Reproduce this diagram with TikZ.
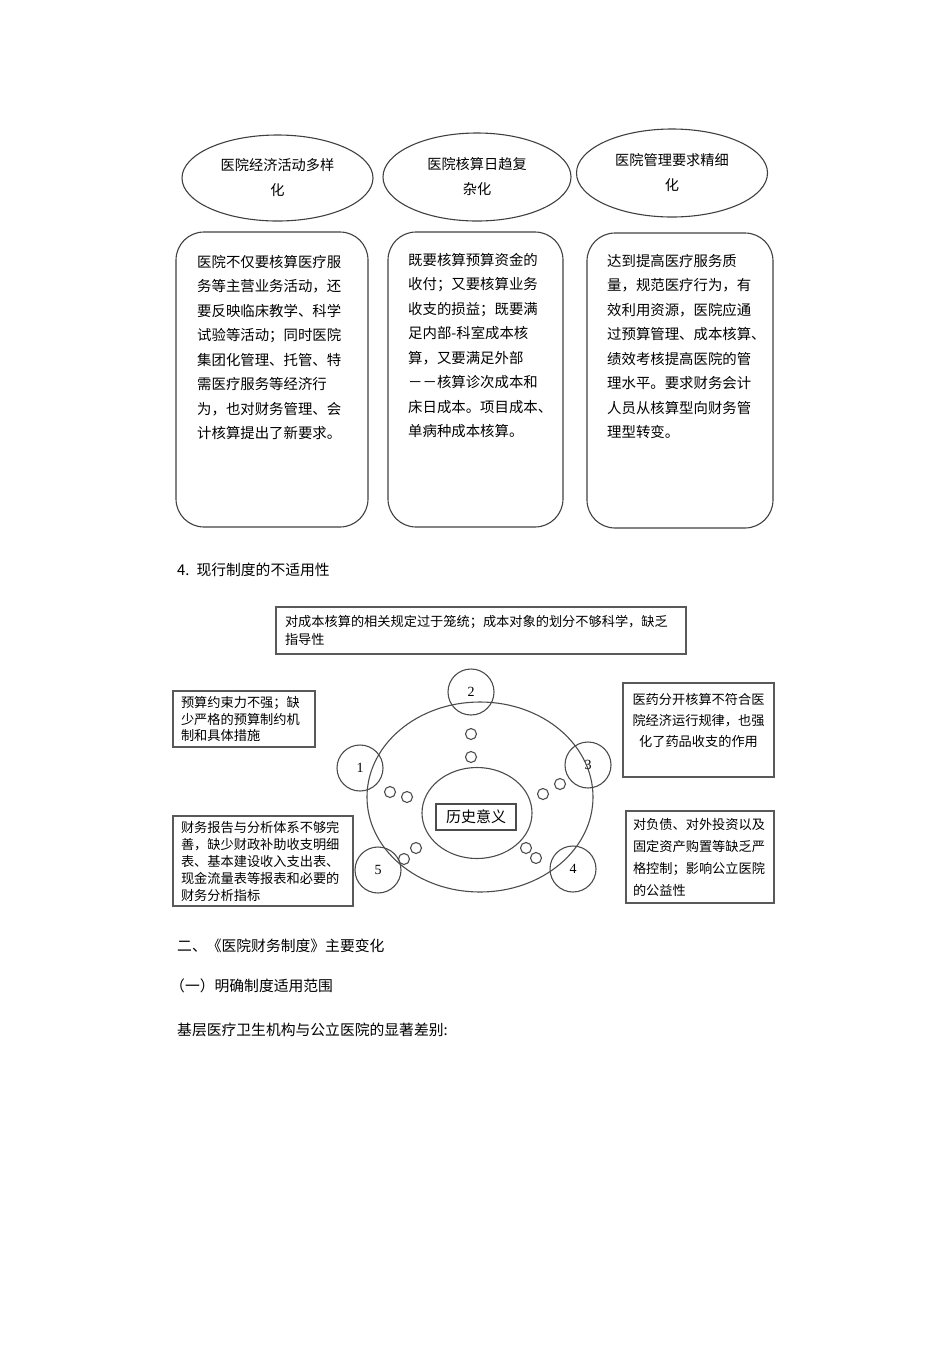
\documentclass[tikz,border=0pt]{standalone}
\usepackage{fontspec}
\setmainfont{Noto Sans CJK SC}
\newfontfamily\numfont{Liberation Serif}
\usetikzlibrary{shapes.geometric}

\begin{document}
\begin{tikzpicture}[x=1pt, y=-1pt,
    oval/.style={ellipse, draw=black!75, line width=1.1pt, align=center, inner sep=0pt, font=\fontsize{14.2}{25}\selectfont},
    card/.style={rectangle, draw=black!75, line width=1.1pt, rounded corners=28pt},
    cardtext/.style={anchor=north west, align=left, inner sep=0pt, font=\fontsize{14.4}{24.5}\selectfont},
    heading/.style={anchor=west, inner sep=0pt, font=\fontsize{14.8}{18}\selectfont},
    notebox/.style={rectangle, draw=black!65, line width=1.1pt, align=left, inner ysep=0pt, font=\fontsize{13.2}{#1}\selectfont},
    ring/.style={ellipse, draw=black!70, line width=1.1pt, inner sep=0pt},
    numring/.style={circle, draw=black!70, line width=1.1pt, minimum size=46pt, inner sep=0pt, font=\numfont\fontsize{14}{14}\selectfont},
    dot/.style={circle, draw=black!70, line width=1.1pt, minimum size=11pt, inner sep=0pt}
]
\useasboundingbox (0,0) rectangle (950,1345);

% three causes
\node[oval, minimum width=191, minimum height=86] (varied) at (277.5,178) {医院经济活动多样\\化};
\node[oval, minimum width=188, minimum height=88] (complex) at (477,177) {医院核算日趋复\\杂化};
\node[oval, minimum width=191, minimum height=88] (refined) at (672,173) {医院管理要求精细\\化};

\node[card, minimum width=192, minimum height=295] (variedcard) at (272,379.5) {};
\node[card, minimum width=175, minimum height=295] (complexcard) at (475.5,379.5) {};
\node[card, minimum width=186, minimum height=295] (refinedcard) at (680,380.5) {};

\node[cardtext] (variedtext) at (197,255) {医院不仅要核算医疗服\\务等主营业务活动，还\\要反映临床教学、科学\\试验等活动；同时医院\\集团化管理、托管、特\\需医疗服务等经济行\\为，也对财务管理、会\\计核算提出了新要求。};
\node[cardtext] (complextext) at (408,253) {既要核算预算资金的\\收付；又要核算业务\\收支的损益；既要满\\足内部-科室成本核\\算，又要满足外部\\－－核算诊次成本和\\床日成本。项目成本、\\单病种成本核算。};
\node[cardtext] (refinedtext) at (607,254) {达到提高医疗服务质\\量，规范医疗行为，有\\效利用资源，医院应通\\过预算管理、成本核算、\\绩效考核提高医院的管\\理水平。要求财务会计\\人员从核算型向财务管\\理型转变。};

\node[heading] (section4) at (177,570) {4.\hspace{7pt}现行制度的不适用性};

% current system
\node[notebox=18, minimum width=410, minimum height=47, inner xsep=9, text width=392] (costnote) at (481,630.5) {对成本核算的相关规定过于笼统；成本对象的划分不够科学，缺乏\\指导性};
\node[notebox=16.5, minimum width=142, minimum height=56, inner xsep=8, text width=126] (budgetnote) at (244,719) {预算约束力不强；缺\\少严格的预算制约机\\制和具体措施};
\node[notebox=17, minimum width=180, minimum height=90, inner xsep=8, text width=164] (reportnote) at (263,861) {财务报告与分析体系不够完\\善，缺少财政补助收支明细\\表、基本建设收入支出表、\\现金流量表等报表和必要的\\财务分析指标};
\node[notebox=22, minimum width=148, minimum height=92, inner xsep=7, text width=134] (assetnote) at (700,857) {对负债、对外投资以及\\固定资产购置等缺乏严\\格控制；影响公立医院\\的公益性};
\node[notebox=21, minimum width=151, minimum height=94] (drugnote) at (698.5,730) {};
\node[align=center, inner sep=0pt, font=\fontsize{13.2}{21}\selectfont] (drugtext) at (698.5,720) {医药分开核算不符合医\\院经济运行规律，也强\\化了药品收支的作用};

\node[ring, minimum width=226, minimum height=190] (outerring) at (480,797) {};
\node[ring, minimum width=110, minimum height=91] (innerring) at (477,813) {};
\node[draw=black!70, line width=1.1pt, minimum width=80, minimum height=26, inner sep=0pt, font=\fontsize{15}{15}\selectfont] (meaning) at (476,817) {历史意义};

\node[numring] (one) at (360,768) {1};
\node[numring] (two) at (471,692) {2};
\node[numring] (three) at (588,765) {3};
\node[numring] (four) at (573,869) {4};
\node[numring] (five) at (378,870) {5};

\node[dot] (dottwoa) at (471,734) {};
\node[dot] (dottwob) at (471,757) {};
\node[dot] (dotonea) at (390,792) {};
\node[dot] (dotoneb) at (407,797) {};
\node[dot] (dotthreea) at (560,784) {};
\node[dot] (dotthreeb) at (543,794) {};
\node[dot] (dotfoura) at (526,848) {};
\node[dot] (dotfourb) at (536,858) {};
\node[dot] (dotfivea) at (416,848) {};
\node[dot] (dotfiveb) at (404,859) {};

\node[heading] (section2) at (177,946) {二、《医院财务制度》主要变化};
\node[heading] (scope) at (170,986) {（一）明确制度适用范围};
\node[heading] (gap) at (177,1030) {基层医疗卫生机构与公立医院的显著差别:};
\end{tikzpicture}
\end{document}
